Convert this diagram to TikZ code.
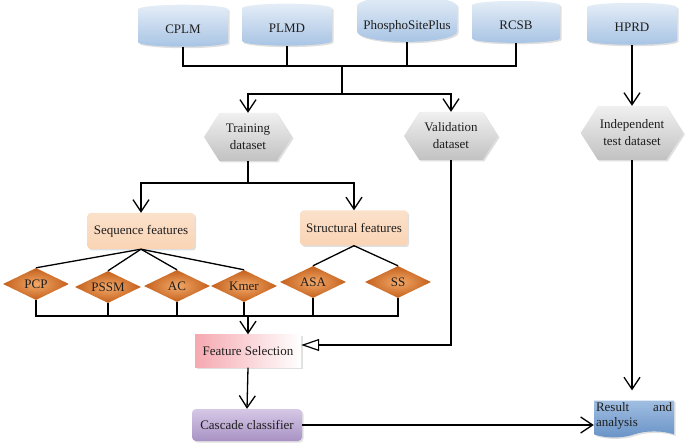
\documentclass[tikz,border=0pt]{standalone}
\usepackage{fontspec}
\setmainfont{Liberation Serif}
\usepackage{xcolor}
\usetikzlibrary{shapes.geometric,shapes.symbols,shadows,arrows.meta,positioning}

\definecolor{dbtop}{RGB}{228,237,247}
\definecolor{dbbot}{RGB}{168,196,228}
\definecolor{peach}{RGB}{250,212,180}
\definecolor{diadark}{RGB}{196,96,28}
\definecolor{dialight}{RGB}{242,168,104}
\definecolor{fspink}{RGB}{242,140,150}
\definecolor{cctop}{RGB}{214,200,230}
\definecolor{ccbot}{RGB}{168,146,196}
\definecolor{restop}{RGB}{160,190,225}
\definecolor{resbot}{RGB}{104,146,198}
\definecolor{ink}{RGB}{30,30,30}

\begin{document}
\begin{tikzpicture}[x=1pt,y=-1pt,
                    font=\fontsize{13}{17}\selectfont,
                    shade/.style={drop shadow={opacity=.25,shadow xshift=1.5pt,shadow yshift=-1.5pt}},
                    db/.style={cylinder, shape border rotate=90, aspect=.22, draw=none, shade,
                               top color=dbtop, bottom color=dbbot, text=ink,
                               minimum width=90pt, minimum height=42pt},
                    hexa/.style={signal, signal to=west and east, signal pointer angle=115, draw=none, shade,
                                 top color=gray!12, bottom color=gray!48, text=ink, align=center,
                                 inner sep=2pt, minimum height=48pt},
                    featbox/.style={rectangle, rounded corners=3pt, draw=none, shade,
                                    top color=peach!70, bottom color=peach, text=ink,
                                    minimum width=107pt, minimum height=36pt},
                    dia/.style={diamond, aspect=2, draw=none, inner sep=0pt, text=ink,
                                shading=radial, inner color=dialight, outer color=diadark,
                                minimum width=66pt, minimum height=32pt},
                    link/.style={line width=1.3pt, black},
                    flow/.style={link, -{Straight Barb[length=12pt,width=16pt,line width=1.3pt]}},
                    openflow/.style={link, -{Triangle[open,length=18pt,width=12pt,line width=1.2pt,fill=white]}},
                   ]

\useasboundingbox (0,0) rectangle (685,443);

% data sources
\node[db] (cplm) at (183,29) {CPLM};
\node[db] (plmd) at (287,28) {PLMD};
\node[db, minimum width=100pt] (psp) at (407,26) {PhosphoSitePlus};
\node[db, minimum width=88pt] (rcsb) at (516,25) {RCSB};
\node[db] (hprd) at (632,27) {HPRD};

% datasets
\node[hexa, minimum width=88pt] (train) at (248,137) {Training\\dataset};
\node[hexa, minimum width=94pt] (valid) at (451,136) {Validation\\dataset};
\node[hexa, minimum width=86pt, minimum height=54pt] (indep) at (632,133) {Independent\\test dataset};

% features
\node[featbox] (seq) at (141,231) {Sequence features};
\node[featbox, minimum height=35pt] (struct) at (354,228) {Structural features};

\node[dia] (pcp)  at (36,284)  {PCP};
\node[dia] (pssm) at (108,287) {PSSM};
\node[dia] (ac)   at (177,286) {AC};
\node[dia] (kmer) at (244,286) {Kmer};
\node[dia] (asa)  at (313,282) {ASA};
\node[dia] (ss)   at (398,282) {SS};

\node[rectangle, draw=none, shade, left color=fspink!75, middle color=fspink, right color=white,
      text=ink, minimum width=106pt, minimum height=33pt] (fsel) at (248,351) {Feature Selection};
\node[rectangle, rounded corners=4pt, draw=none, shade, top color=cctop, bottom color=ccbot,
      text=ink, minimum width=110pt, minimum height=32pt] (casc) at (247,425) {Cascade classifier};
\node[tape, tape bend top=none, tape bend height=6pt, draw=none, shade, top color=restop, bottom color=resbot,
      text=ink, text width=76pt, align=justify, inner sep=2pt,
      font=\fontsize{13}{15}\selectfont] (res) at (634,416) {Result and\linebreak analysis};

% connectors
\coordinate (bus) at (342,66);
\coordinate (split) at (342,94);
\draw[link] (cplm.south) |- (bus) -| (rcsb.south);
\draw[link] (plmd.south) -- (plmd.south |- bus);
\draw[link] (psp.south) -- (psp.south |- bus);
\draw[link] (bus) -- (split);
\draw[flow] (split) -| (train.north);
\draw[flow] (split) -| (valid.north);
\draw[flow] (hprd.south) -- (indep.north);

\coordinate (fork) at (248,183);
\draw[link] (train.south) -- (fork);
\draw[flow] (fork) -| (seq.north);
\draw[flow] (fork) -| (struct.north);

\foreach \d in {pcp,pssm,ac,kmer}
  \draw[link] (seq.south) -- (\d.north);
\foreach \d in {asa,ss}
  \draw[link] (struct.south) -- (\d.north);

\coordinate (merge) at (248,316);
\draw[link] (pcp.south) |- (merge) -| (ss.south);
\foreach \d in {pssm,ac,kmer,asa}
  \draw[link] (\d.south) -- (\d.south |- merge);
\draw[flow] (merge) -- (fsel.north);

\draw[openflow] (valid.south) |- ([yshift=6pt]fsel.east);
\draw[flow] (fsel.south) -- (casc.north);
\draw[flow] (casc.east) -- (casc.east -| res.west);
\draw[flow] (indep.south) -- ([yshift=10pt]indep.south |- res.north);

\end{tikzpicture}
\end{document}
